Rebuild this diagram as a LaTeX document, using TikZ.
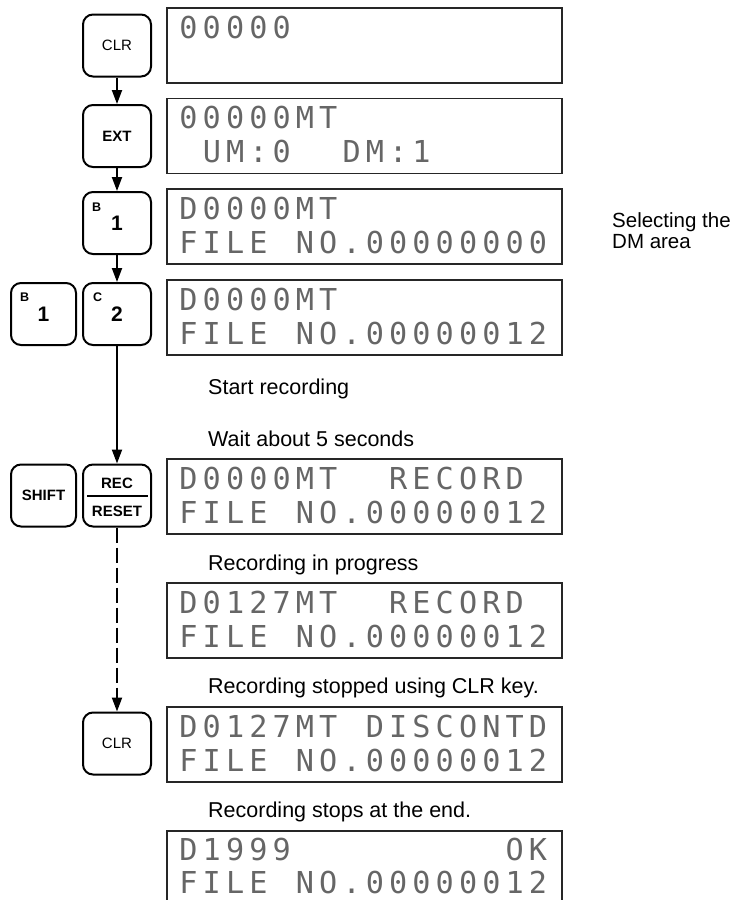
\documentclass[tikz,border=0pt]{standalone}
\usepackage{fontspec}
\setmainfont{Liberation Sans}
\newfontfamily\lcdfont{DejaVu Sans Mono}
\usetikzlibrary{arrows.meta}

\newdimen\lcdpitch \lcdpitch=23.3pt
\def\lcdend{\lcdend}
\newcommand\lcdline[1]{\lcdL#1\lcdend}
\def\lcdL#1{\ifx#1\lcdend\else\lcdC{#1}\expandafter\lcdL\fi}
\def\lcdC#1{\ifx#1*\hbox to\lcdpitch{\hss}\else\hbox to\lcdpitch{\hss#1\hss}\fi}

\begin{document}
\begin{tikzpicture}[x=1pt,y=-1pt,
  key/.style={draw, line width=2pt, rounded corners=10pt, minimum width=68pt, minimum height=62pt, inner sep=0pt, font=\fontsize{15}{15}\selectfont},
  lkey/.style={key, minimum width=65pt},
  bkey/.style={font=\bfseries\fontsize{15}{15}\selectfont},
  keydigit/.style={font=\bfseries\fontsize{21}{21}\selectfont},
  supl/.style={anchor=north west, inner sep=0pt, font=\bfseries\fontsize{12.5}{12.5}\selectfont},
  lcd/.style={draw=black!85, line width=1.3pt, minimum width=395pt, minimum height=75pt, inner sep=0pt},
  lcdtxt/.style={anchor=base west, inner sep=0pt, text=black!60, font=\lcdfont\fontsize{30.2}{30.2}\selectfont},
  note/.style={anchor=base west, inner sep=0pt, font=\fontsize{21.5}{21.5}\selectfont},
  arr/.style={line width=2pt, -{Triangle[length=14pt,width=10pt]}}
]
\useasboundingbox (0,0) rectangle (739,900);

% displays
\node[lcd] (d1) at (364.5,45.5) {};
\node[lcd] (d2) at (364.5,136) {};
\node[lcd] (d3) at (364.5,226.5) {};
\node[lcd] (d4) at (364.5,317.5) {};
\node[lcd] (d5) at (364.5,496.5) {};
\node[lcd] (d6) at (364.5,620.5) {};
\node[lcd] (d7) at (364.5,744.5) {};
\node[lcd] (d8) at (364.5,868.5) {};

\node[lcdtxt] (t1a) at (176.7,38) {\lcdline{00000}};
\node[lcdtxt] (t2a) at (176.7,128.5) {\lcdline{00000MT}};
\node[lcdtxt] (t2b) at (176.7,162.5) {\lcdline{*UM:0**DM:1}};
\node[lcdtxt] (t3a) at (176.7,219) {\lcdline{D0000MT}};
\node[lcdtxt] (t3b) at (176.7,253) {\lcdline{FILE*NO.00000000}};
\node[lcdtxt] (t4a) at (176.7,310) {\lcdline{D0000MT}};
\node[lcdtxt] (t4b) at (176.7,344) {\lcdline{FILE*NO.00000012}};
\node[lcdtxt] (t5a) at (176.7,489) {\lcdline{D0000MT**RECORD}};
\node[lcdtxt] (t5b) at (176.7,523) {\lcdline{FILE*NO.00000012}};
\node[lcdtxt] (t6a) at (176.7,613) {\lcdline{D0127MT**RECORD}};
\node[lcdtxt] (t6b) at (176.7,647) {\lcdline{FILE*NO.00000012}};
\node[lcdtxt] (t7a) at (176.7,737) {\lcdline{D0127MT*DISCONTD}};
\node[lcdtxt] (t7b) at (176.7,771) {\lcdline{FILE*NO.00000012}};
\node[lcdtxt] (t8a) at (176.7,860) {\lcdline{D1999*********OK}};
\node[lcdtxt] (t8b) at (176.7,893) {\lcdline{FILE*NO.00000012}};

% keys
\node[key] (k1) at (117,45.5) {CLR};
\node[key,bkey] (k2) at (117,136) {EXT};
\node[key,keydigit] (k3) at (117,223) {1};
\node[supl] (k3s) at (92,203) {B};
\node[lkey,keydigit] (k4l) at (43.5,314) {1};
\node[supl] (k4ls) at (20,293) {B};
\node[key,keydigit] (k4) at (117,314) {2};
\node[supl] (k4s) at (93,293) {C};
\node[lkey,bkey] (k5l) at (43.5,495.5) {SHIFT};
\node[key] (k5) at (117,495.5) {};
\node[bkey, inner sep=0pt] (rec) at (117,483) {REC};
\node[bkey, inner sep=0pt] (reset) at (117,511) {RESET};
\draw[line width=2pt] ([xshift=5pt]k5.west) -- ([xshift=-4pt]k5.east);
\node[key] (k6) at (117,743.5) {CLR};

% notes
\node[note] (n1) at (208,394) {Start recording};
\node[note] (n2) at (208,446) {Wait about 5 seconds};
\node[note] (n3) at (208,570) {Recording in progress};
\node[note] (n4) at (208,693) {Recording stopped using CLR key.};
\node[note] (n5) at (208,817) {Recording stops at the end.};
\node[note, font=\fontsize{20.5}{20.5}\selectfont] (n6) at (612,227) {Selecting the};
\node[note, font=\fontsize{20.5}{20.5}\selectfont] (n7) at (612,248) {DM area};

% connectors
\draw[arr] (k1) -- (k2);
\draw[arr] (k2) -- (k3);
\draw[arr] (k3) -- (k4);
\draw[arr] (k4) -- (k5);
\draw[arr, dash pattern=on 15pt off 5pt] (k5) -- (k6);
\end{tikzpicture}
\end{document}
